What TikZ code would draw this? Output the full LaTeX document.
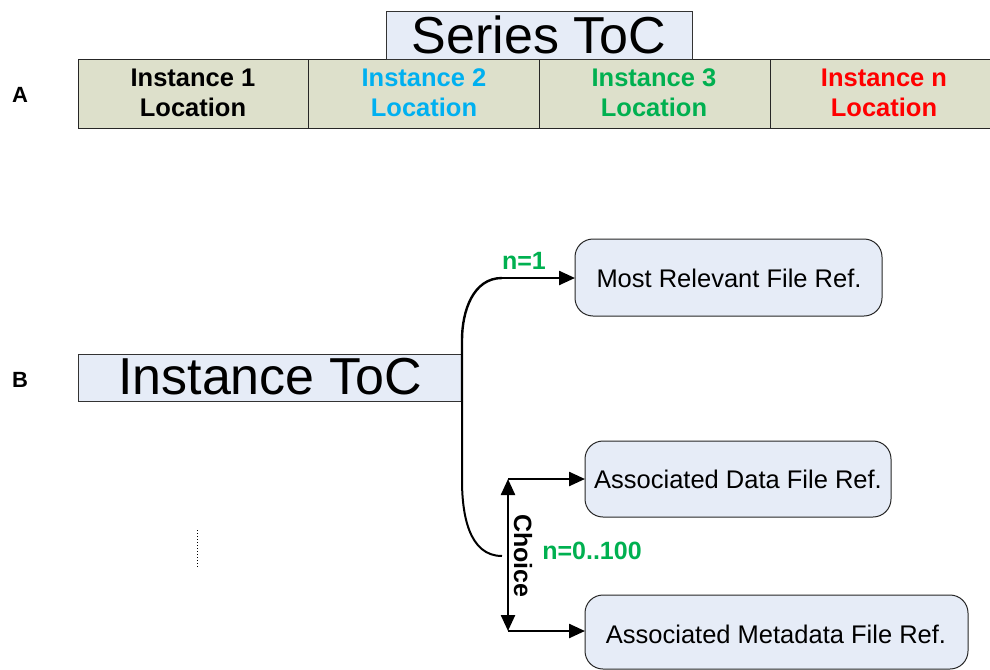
\documentclass[tikz,border=0pt]{standalone}
\usepackage{fontspec}
\setmainfont{Liberation Sans}
\usetikzlibrary{arrows.meta}
\definecolor{tocfill}{HTML}{E6ECF7}
\definecolor{rowfill}{HTML}{DDE0CB}
\definecolor{boxfill}{HTML}{E6ECF7}
\definecolor{gr}{HTML}{00B050}
\definecolor{bl}{HTML}{00B0F0}
\definecolor{rd}{HTML}{FF0000}
\tikzset{
  x=1pt,y=-1pt,
  tip/.tip={Triangle[length=16pt,width=14pt]},
  tocbox/.style={draw=black!80,fill=tocfill,line width=1pt},
  rowcell/.style={draw=black!85,fill=rowfill,line width=1pt},
  cellt/.style={font=\fontsize{25.5}{30}\selectfont\bfseries,align=center},
  refbox/.style={draw=black!85,fill=boxfill,rounded corners=18pt,line width=1pt},
  reft/.style={font=\fontsize{25.5}{28}\selectfont},
  conn/.style={line width=2.4pt,-tip},
  lbl/.style={font=\fontsize{25}{28}\selectfont\bfseries}
}
\begin{document}
\begin{tikzpicture}
\useasboundingbox (0,0) rectangle (990,669);
% Row A
\draw[rowcell] (78,60) rectangle (308,128);
\draw[rowcell] (308,60) rectangle (539,128);
\draw[rowcell] (539,60) rectangle (770,128);
\draw[rowcell] (770,60) rectangle (990,128);
\node[cellt] (c1) at (193,93) {Instance 1\\Location};
\node[cellt,text=bl] (c2) at (424,93) {Instance 2\\Location};
\node[cellt,text=gr] (c3) at (654,93) {Instance 3\\Location};
\node[cellt,text=rd] (c4) at (884,93) {Instance n\\Location};
\draw[tocbox] (386,12) rectangle (692,60);
\node[font=\fontsize{52}{56}\selectfont] (stoc) at (539,35) {Series ToC};
\node[font=\fontsize{22}{26}\selectfont\bfseries] (la) at (20,95) {A};
\node[font=\fontsize{22}{26}\selectfont\bfseries] (lb) at (20,380) {B};
% Instance ToC
\draw[tocbox] (78,354) rectangle (462,401);
\node[font=\fontsize{52}{56}\selectfont] (itoc) at (270,377) {Instance ToC};
% Ref boxes
\draw[refbox] (575,239) rectangle (882,316);
\node[reft] (mr) at (729,278) {Most Relevant File Ref.};
\coordinate (mrw) at (575,278);
\draw[refbox] (585,441) rectangle (891,517);
\node[reft] (ad) at (738,479) {Associated Data File Ref.};
\coordinate (adw) at (585,479);
\draw[refbox] (585,595) rectangle (968,669);
\node[reft] (am) at (776,634) {Associated Metadata File Ref.};
\coordinate (amw) at (585,631);
% connectors
\coordinate (ir) at (462,401);
\draw[line width=2.4pt] (ir) -- (462,340) to[out=90,in=180] (502,278);
\draw[conn] (502,278) -- (mrw);
\draw[line width=2pt] (ir) -- (462,480) to[out=-90,in=180] (502,556);
\coordinate (ct) at (508,479);
\coordinate (cb) at (508,631);
\draw[conn] (ct) -- (adw);
\draw[conn] (cb) -- (amw);
\draw[line width=2.4pt,tip-tip] (ct) -- (cb);
\node[lbl,rotate=-90] (ch) at (523,556) {Choice};
\node[lbl,text=gr] (n1) at (524,261) {n=1};
\node[lbl,text=gr] (n2) at (592,551) {n=0..100};
\draw[line width=1pt,dotted] (197,530) -- (197,568);
\end{tikzpicture}
\end{document}
